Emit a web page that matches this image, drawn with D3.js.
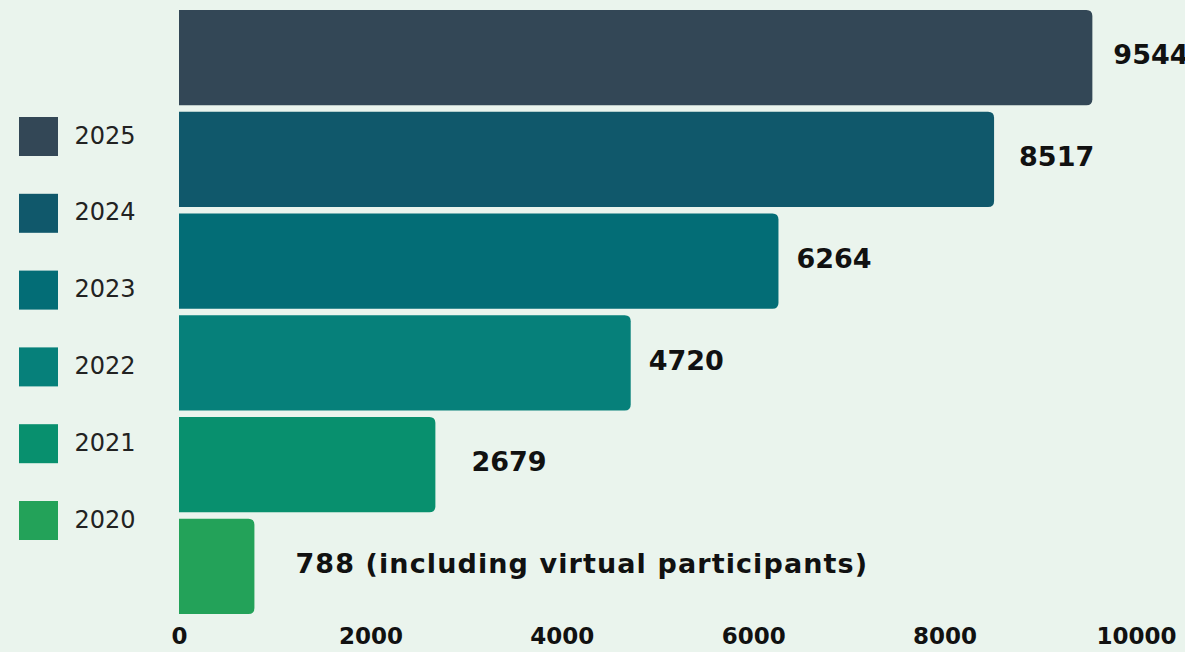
<!DOCTYPE html>
<html>
<head>
<meta charset="utf-8">
<script src="https://cdn.jsdelivr.net/npm/d3@7"></script>
<style>
    html, body { margin: 0; padding: 0; background: #eaf4ed; overflow: hidden; }
    svg { display: block; font-family: "DejaVu Sans", sans-serif; }
</style>
</head>
<body>
<div id="chart"></div>
<script>
// chart data
var years = ["2025", "2024", "2023", "2022", "2021", "2020"];
var participants = [9544, 8517, 6264, 4720, 2679, 788];
var valueLabels = ["9544", "8517", "6264", "4720", "2679", "788 (including virtual participants)"];
var barColors = ["#334756", "#10586b", "#036d76", "#06807a", "#08906e", "#23a259"];
var xTicks = [0, 2000, 4000, 6000, 8000, 10000];

var width = 1185;
var height = 652;

var svg = d3.select("#chart")
    .append("svg")
    .attr("width", width)
    .attr("height", height);

svg.append("rect")
    .attr("width", width)
    .attr("height", height)
    .attr("fill", "#eaf4ed");

var x = d3.scaleLinear()
    .domain([0, 10000])
    .range([179, 1136]);

var y = d3.scaleBand()
    .domain(years)
    .range([9, 615])
    .paddingInner(0.065)
    .paddingOuter(0.01);

// bars: square on the left, rounded on the right
var r = 6;
function barPath(d, i) {
    var x0 = x(0), x1 = x(participants[i]);
    var y0 = y(d), y1 = y0 + y.bandwidth();
    return "M" + x0 + "," + y0 +
        "H" + (x1 - r) +
        "Q" + x1 + "," + y0 + " " + x1 + "," + (y0 + r) +
        "V" + (y1 - r) +
        "Q" + x1 + "," + y1 + " " + (x1 - r) + "," + y1 +
        "H" + x0 + "Z";
}

svg.selectAll("path.bar")
    .data(years)
    .enter()
    .append("path")
    .attr("class", "bar")
    .attr("d", barPath)
    .attr("fill", function(d, i) { return barColors[i]; });

// value labels (small nudges to follow the original placement)
var nudge = [21, 25, 18, 18, 36, 41];
svg.selectAll("text.value")
    .data(years)
    .enter()
    .append("text")
    .attr("class", "value")
    .attr("x", function(d, i) { return x(participants[i]) + nudge[i]; })
    .attr("y", function(d) { return y(d) + y.bandwidth() / 2 - 3; })
    .attr("dy", "0.36em")
    .attr("font-size", 27)
    .attr("font-weight", "bold")
    .attr("letter-spacing", function(d, i) { return i == 5 ? 1.1 : 0; })
    .attr("fill", "#111")
    .text(function(d, i) { return valueLabels[i]; });

// x axis
var xAxis = svg.append("g")
    .attr("transform", "translate(0,625)")
    .call(d3.axisBottom(x).tickValues(xTicks).tickSize(0).tickFormat(d3.format("d")));
xAxis.select(".domain").remove();
xAxis.selectAll("text")
    .attr("font-family", "DejaVu Sans, sans-serif")
    .attr("font-size", 23)
    .attr("font-weight", "bold")
    .attr("fill", "#111")
    .attr("dy", "0.71em");

// legend
var legend = svg.selectAll("g.legend")
    .data(years)
    .enter()
    .append("g")
    .attr("class", "legend")
    .attr("transform", function(d, i) { return "translate(19," + (117 + i * 76.8) + ")"; });

legend.append("rect")
    .attr("width", 39)
    .attr("height", 39)
    .attr("fill", function(d, i) { return barColors[i]; });

legend.append("text")
    .attr("x", 86)
    .attr("y", 18)
    .attr("dy", "0.36em")
    .attr("text-anchor", "middle")
    .attr("font-size", 24)
    .attr("fill", "#222")
    .text(function(d) { return d; });
</script>
</body>
</html>
